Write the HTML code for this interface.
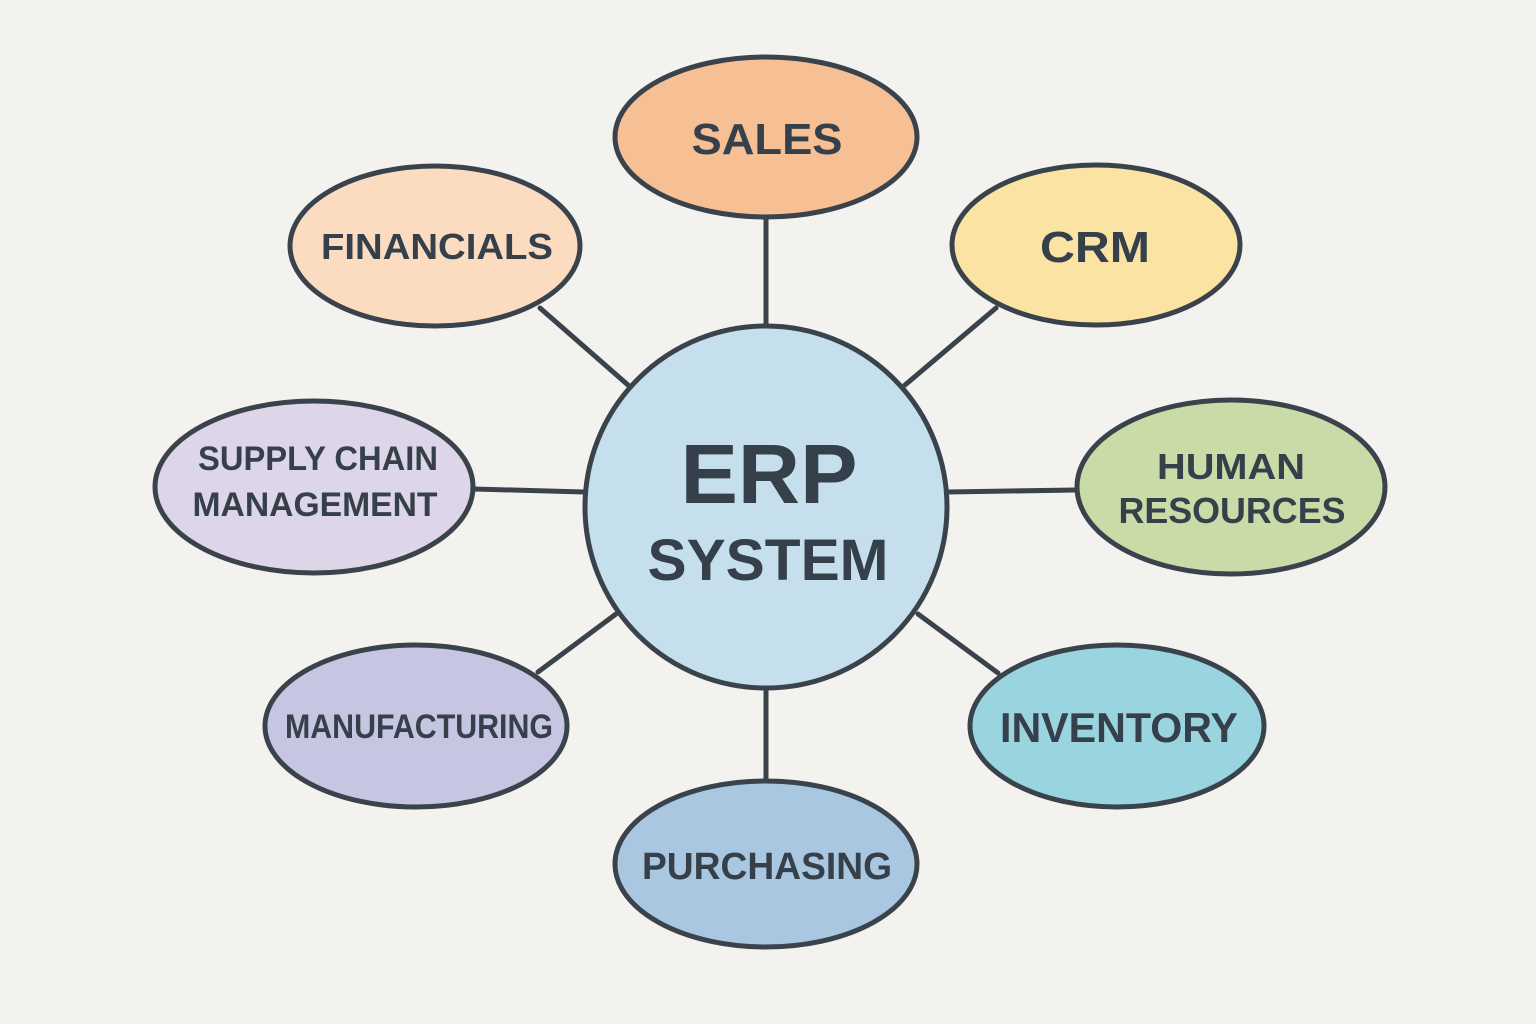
<!DOCTYPE html>
<html><head><meta charset="utf-8"><style>
html,body{margin:0;padding:0;background:#f4f2ef;}
svg{display:block}
text{font-family:"Liberation Sans",sans-serif;font-weight:bold;fill:#36404a;text-anchor:middle;}
</style></head><body>
<svg width="1536" height="1024" viewBox="0 0 1536 1024">
<rect width="1536" height="1024" fill="#f4f2ef"/>
<g stroke="#3a434c" stroke-width="5" stroke-linecap="round">
<line x1="766" y1="217" x2="766" y2="325"/>
<line x1="540" y1="308" x2="628" y2="385"/>
<line x1="996" y1="308" x2="905" y2="385"/>
<line x1="474" y1="489" x2="584" y2="492"/>
<line x1="948" y1="492" x2="1076" y2="490"/>
<line x1="538" y1="672" x2="616" y2="614"/>
<line x1="918" y1="614" x2="998" y2="673"/>
<line x1="766" y1="689" x2="766" y2="780"/>
</g>
<g stroke="#3a434c" stroke-width="5">
<circle cx="766" cy="507" r="181" fill="#c5e0ec"/>
<ellipse cx="766" cy="137" rx="151" ry="80" fill="#f6bf94"/>
<ellipse cx="435" cy="246" rx="145" ry="80" fill="#fbdcc0"/>
<ellipse cx="1096" cy="245" rx="144" ry="80" fill="#fbe3a3"/>
<ellipse cx="314" cy="487" rx="159" ry="86" fill="#dcd6e8"/>
<ellipse cx="1231" cy="487" rx="154" ry="87" fill="#c9dba6"/>
<ellipse cx="416" cy="726" rx="151" ry="81" fill="#c7c6e2"/>
<ellipse cx="1117" cy="726" rx="147" ry="81" fill="#99d4df"/>
<ellipse cx="766" cy="864" rx="151" ry="83" fill="#a9c7e0"/>
</g>
<g lengthAdjust="spacingAndGlyphs">
<text x="769" y="503" font-size="84" textLength="177" lengthAdjust="spacingAndGlyphs">ERP</text>
<text x="768" y="580" font-size="58" textLength="241" lengthAdjust="spacingAndGlyphs">SYSTEM</text>
<text x="767" y="154" font-size="44" textLength="151" lengthAdjust="spacingAndGlyphs">SALES</text>
<text x="437" y="259" font-size="36" textLength="232" lengthAdjust="spacingAndGlyphs">FINANCIALS</text>
<text x="1095" y="262" font-size="44" textLength="110" lengthAdjust="spacingAndGlyphs">CRM</text>
<text x="318" y="470" font-size="34" textLength="240" lengthAdjust="spacingAndGlyphs">SUPPLY CHAIN</text>
<text x="315" y="516" font-size="34" textLength="245" lengthAdjust="spacingAndGlyphs">MANAGEMENT</text>
<text x="1231" y="479" font-size="36" textLength="148" lengthAdjust="spacingAndGlyphs">HUMAN</text>
<text x="1232" y="523" font-size="36" textLength="227" lengthAdjust="spacingAndGlyphs">RESOURCES</text>
<text x="419" y="738" font-size="34" textLength="268" lengthAdjust="spacingAndGlyphs">MANUFACTURING</text>
<text x="1119" y="742" font-size="42" textLength="238" lengthAdjust="spacingAndGlyphs">INVENTORY</text>
<text x="767" y="879" font-size="38" textLength="250" lengthAdjust="spacingAndGlyphs">PURCHASING</text>
</g>
</svg>
</body></html>
